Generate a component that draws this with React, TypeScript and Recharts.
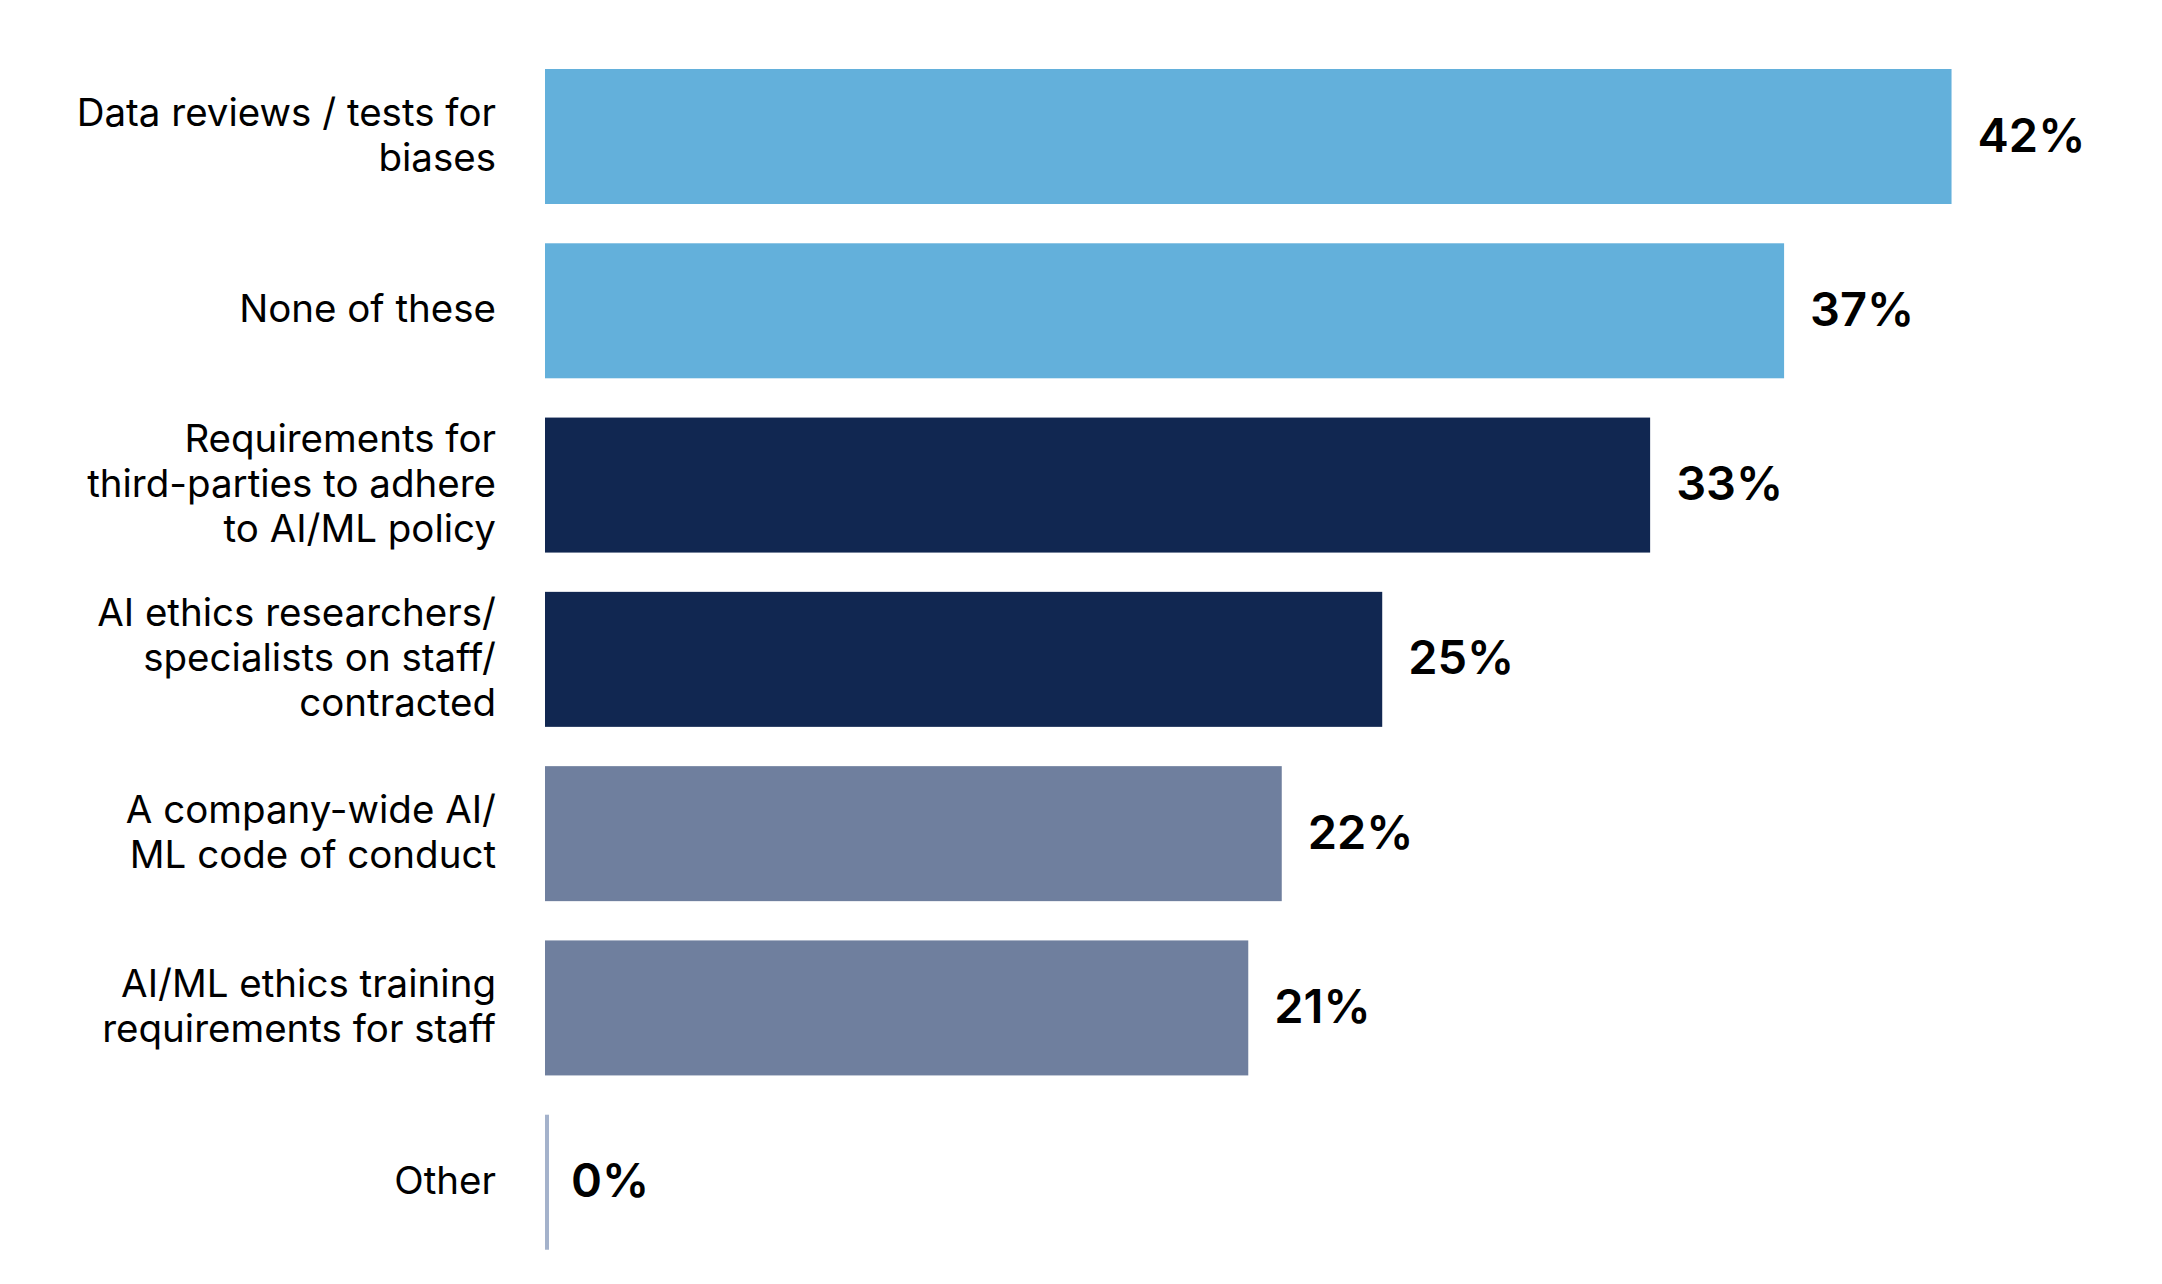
import React from "react";
import { BarChart, Bar, XAxis, YAxis, Cell, LabelList } from "recharts";

const categories: string[] = [
  "Data reviews / tests for\nbiases",
  "None of these",
  "Requirements for\nthird-parties to adhere\nto AI/ML policy",
  "AI ethics researchers/\nspecialists on staff/\ncontracted",
  "A company-wide AI/\nML code of conduct",
  "AI/ML ethics training\nrequirements for staff",
  "Other",
];
const values: number[] = [42, 37, 33, 25, 22, 21, 0];
const barColors: string[] = ["#63B0DB", "#63B0DB", "#112751", "#112751", "#6F7F9E", "#6F7F9E", "#A4B2CB"];

const data = categories.map((name, i) => ({ name, value: values[i], color: barColors[i] }));

const FONT = "Inter, 'Open Sans', sans-serif";

const CategoryTick = (props: any) => {
  const { x, y, payload } = props;
  const lines: string[] = String(payload.value).split("\n");
  const lh = 45;
  return (
    <g>
      {lines.map((ln, i) => (
        <text
          key={i}
          x={x}
          y={y + (i - (lines.length - 1) / 2) * lh + 12}
          textAnchor="end"
          fontFamily={FONT}
          fontSize={38.5}
          fill="#000"
        >
          {ln}
        </text>
      ))}
    </g>
  );
};

const BarShape = (props: any) => {
  const { x, y, width, height, payload } = props;
  const w = Math.max(width, 4);
  return <rect x={x} y={y} width={w} height={height} fill={payload.color} />;
};

const ValueLabel = (props: any) => {
  const { x, y, width, height, value } = props;
  return (
    <text
      x={x + Math.max(width, 0) + 26}
      y={y + height / 2 + 15}
      textAnchor="start"
      fontFamily={FONT}
      fontWeight={600}
      fontSize={47}
      fill="#000"
    >
      {value}%
    </text>
  );
};

export default function App() {
  return (
    <div style={{ width: 2146, height: 1268, background: "#fff" }}>
      <BarChart
        width={2146}
        height={1268}
        data={data}
        layout="vertical"
        margin={{ top: 41, right: 102, bottom: 7, left: 0 }}
        barSize={135}
      >
        <XAxis type="number" domain={[0, 45]} hide />
        <YAxis
          type="category"
          dataKey="name"
          width={537}
          axisLine={false}
          tickLine={false}
          tickSize={0}
          tickMargin={49}
          interval={0}
          tick={<CategoryTick />}
        />
        <Bar dataKey="value" isAnimationActive={false} shape={<BarShape />}>
          {data.map((d, i) => (
            <Cell key={i} fill={d.color} />
          ))}
          <LabelList dataKey="value" content={<ValueLabel />} />
        </Bar>
      </BarChart>
    </div>
  );
}
